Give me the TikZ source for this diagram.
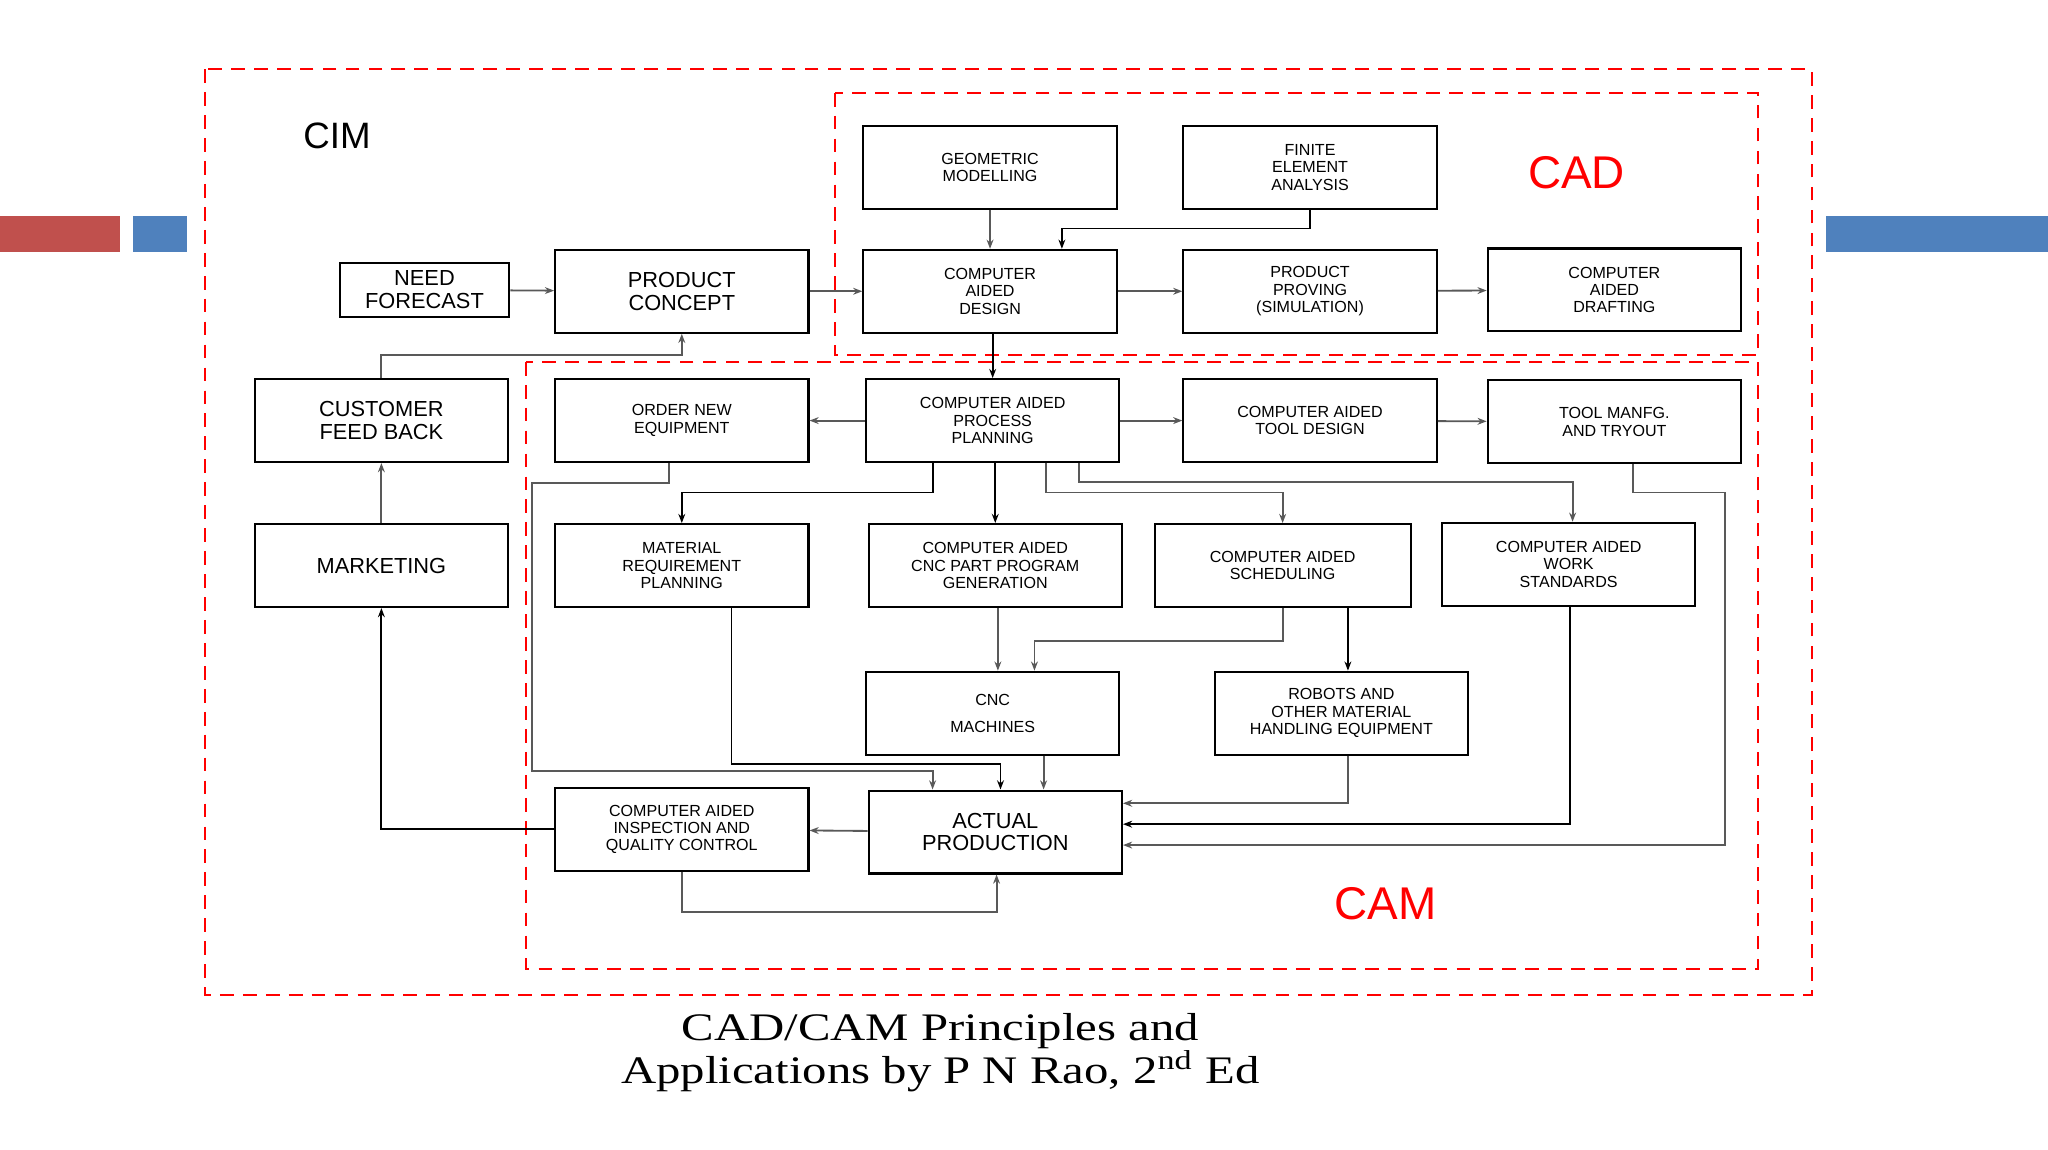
\documentclass[tikz,border=0pt]{standalone}
\usepackage{fontspec}
\setmainfont{Liberation Sans}
\newfontfamily\capfont{Liberation Serif}
\usetikzlibrary{positioning,arrows.meta}
\definecolor{barred}{HTML}{C0504D}
\definecolor{barblue}{HTML}{4F81BD}

\begin{document}
\begin{tikzpicture}[x=0.02cm,y=-0.02cm,
    box/.style={rectangle,draw=black,line width=0.9pt,fill=white,align=center,
      minimum width=3.88cm,minimum height=1.27cm,inner sep=1pt,
      font=\fontsize{7}{7.6}\selectfont},
    bigbox/.style={box,font=\fontsize{9.5}{10}\selectfont},
    arrow/.style={-{Stealth[length=4pt,width=3pt]},line width=0.8pt,gray!70!black},
    zone/.style={draw=red,dashed,dash pattern=on 6pt off 4pt,line width=0.9pt},
    zonelabel/.style={text=red,font=\fontsize{20}{20}\selectfont}
    ]
    \useasboundingbox (0,0) rectangle (1568,880);
    \fill[barred] (0,165) rectangle (92,193);
    \fill[barblue] (102,165) rectangle (143,193);
    \fill[barblue] (1398,165) rectangle (1568,193);

    % dashed regions
    \draw[zone] (157,53) rectangle (1387,762);
    \draw[zone] (639,71) rectangle (1346,272);
    \draw[zone] (403,277) rectangle (1346,742);
    \node[font=\fontsize{16}{16}\selectfont] (cim) at (258,104) {CIM};
    \node[zonelabel] (cadlbl) at (1207,132) {CAD};
    \node[zonelabel] (camlbl) at (1061,692) {CAM};

    % boxes
    \node[box] (gm) at (758,128) {GEOMETRIC\\MODELLING};
    \node[box] (fea) at (1003,128) {FINITE\\ELEMENT\\ANALYSIS};
    \node[bigbox,minimum width=2.6cm,minimum height=0.84cm] (need) at (325,222) {NEED\\FORECAST};
    \node[bigbox] (pc) at (522,223) {PRODUCT\\CONCEPT};
    \node[box] (cad) at (758,223) {COMPUTER\\AIDED\\DESIGN};
    \node[box] (pp) at (1003,223) {PRODUCT\\PROVING\\(SIMULATION)};
    \node[box] (cadd) at (1236,222) {COMPUTER\\AIDED\\DRAFTING};
    \node[bigbox] (cfb) at (292,322) {CUSTOMER\\FEED BACK};
    \node[box] (one) at (522,322) {ORDER NEW\\EQUIPMENT};
    \node[box] (capp) at (760,322) {COMPUTER AIDED\\PROCESS\\PLANNING};
    \node[box] (ctd) at (1003,322) {COMPUTER AIDED\\TOOL DESIGN};
    \node[box] (tmf) at (1236,323) {TOOL MANFG.\\AND TRYOUT};
    \node[bigbox] (mkt) at (292,433) {MARKETING};
    \node[box] (mrp) at (522,433) {MATERIAL\\REQUIREMENT\\PLANNING};
    \node[box] (cnp) at (762,433) {COMPUTER AIDED\\CNC PART PROGRAM\\GENERATION};
    \node[box,minimum width=3.92cm] (sch) at (982,433) {COMPUTER AIDED\\SCHEDULING};
    \node[box] (cws) at (1201,432) {COMPUTER AIDED\\WORK\\STANDARDS};
    \node[box] (cnc) at (760,546) {CNC\\[4pt]MACHINES};
    \node[box] (rob) at (1027,546) {ROBOTS AND\\OTHER MATERIAL\\HANDLING EQUIPMENT};
    \node[box] (qc) at (522,635) {COMPUTER AIDED\\INSPECTION AND\\QUALITY CONTROL};
    \node[bigbox] (ap) at (762,637) {ACTUAL\\PRODUCTION};

    % connectors
    \draw[arrow] (gm) -- (cad);
    \draw[arrow,black] (fea.south) |- (813,175) -- (cad.north -| 813,0);
    \draw[arrow] (need) -- (pc);
    \draw[arrow] (pc) -- (cad);
    \draw[arrow] (cad) -- (pp);
    \draw[arrow] (pp) -- (cadd);
    \draw[arrow,black] (cad.south -| 760,0) -- (capp);
    \draw[arrow] (cfb.north) |- (522,272) -- (pc.south);
    \draw[arrow] (capp) -- (one);
    \draw[arrow] (capp) -- (ctd);
    \draw[arrow] (ctd) -- (tmf);
    \draw[arrow] (mkt) -- (cfb);
    \draw[arrow,black] (capp.south -| 714,0) |- (522,377) -- (mrp.north);
    \draw[arrow,black] (capp.south -| 762,0) -- (cnp.north -| 762,0);
    \draw[arrow] (capp.south -| 801,0) |- (982,377) -- (sch.north);
    \draw[arrow] (capp.south -| 826,0) |- (1204,369) -- (cws.north -| 1204,0);
    \draw[arrow] (cnp.south -| 764,0) -- (cnc.north -| 764,0);
    \draw[arrow] (sch.south) |- (792,491) -- (cnc.north -| 792,0);
    \draw[arrow,black] (sch.south -| 1032,0) -- (rob.north -| 1032,0);
    \draw[arrow] (one.south -| 512,0) |- (407,370) |- (714,590) -- (ap.north -| 714,0);
    \draw[arrow,black] (mrp.south -| 560,0) |- (766,585) -- (ap.north -| 766,0);
    \draw[arrow] (cnc.south -| 799,0) -- (ap.north -| 799,0);
    \draw[arrow] (rob.south -| 1032,0) |- (ap.east |- 0,615);
    \draw[arrow,black] (cws.south -| 1202,0) |- (ap.east |- 0,631);
    \draw[arrow] (tmf.south -| 1250,0) |- (1321,377) |- (ap.east |- 0,647);
    \draw[arrow] (ap) -- (qc);
    \draw[arrow] (qc.south) |- (763,698) -- (ap.south -| 763,0);
    \draw[arrow,black] (qc.west) -| (mkt.south);

    % caption
    \node[font=\capfont\fontsize{17}{19}\selectfont,align=center,xscale=1.25] (src) at (720,806)
      {CAD/CAM Principles and\\Applications by P N Rao, 2\textsuperscript{nd} Ed};
\end{tikzpicture}
\end{document}
